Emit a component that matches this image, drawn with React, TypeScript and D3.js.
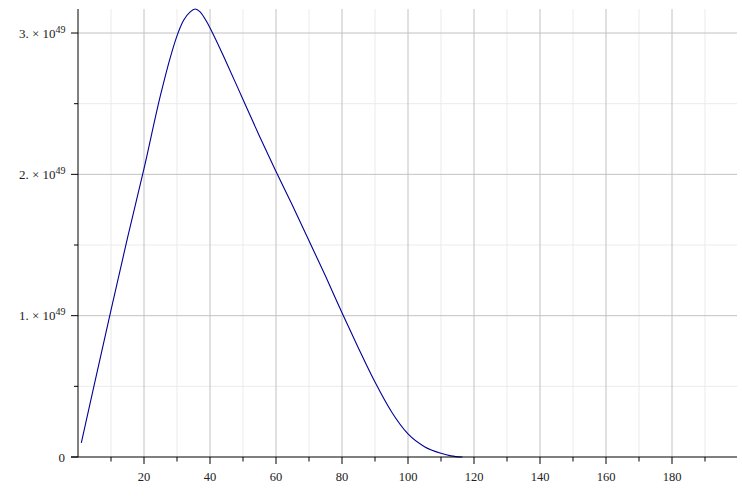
import React from "react";
import * as d3 from "d3";

// Curve samples (x, value in units of 1e49)
const xValues = [1, 5, 10, 15, 20, 25, 28, 30, 32, 34, 35.5, 37, 39, 41, 45, 50, 55, 60, 65, 70, 75, 80, 85, 90, 95, 100, 105, 110, 113, 116.5];
const yValues = [0.10, 0.52, 1.04, 1.55, 2.04, 2.56, 2.83, 2.98, 3.09, 3.15, 3.17, 3.15, 3.08, 2.99, 2.79, 2.53, 2.27, 2.02, 1.78, 1.53, 1.28, 1.02, 0.77, 0.53, 0.32, 0.163, 0.073, 0.026, 0.008, 0.0];
const scaleExp = 49;

const xMajorTicks = [20, 40, 60, 80, 100, 120, 140, 160, 180];
const xMinorTicks = [10, 30, 50, 70, 90, 110, 130, 150, 170, 190];
const yMajorTicks = [0, 1, 2, 3];
const yMinorTicks = [0.5, 1.5, 2.5];

const W = 742;
const H = 503;

export default function App() {
  const x = d3.scaleLinear().domain([0, 200]).range([78, 738]);
  const y = d3.scaleLinear().domain([0, 3.17]).range([457, 9]);
  const pts: [number, number][] = xValues.map((v, i) => [v, yValues[i]]);
  const line = d3
    .line<[number, number]>()
    .x((d) => x(d[0]))
    .y((d) => y(d[1]))
    .curve(d3.curveMonotoneX);

  const x0 = x(0);
  const xR = 737;
  const yTop = 9;
  const y0 = y(0);
  const font = "'Liberation Serif', 'Times New Roman', serif";

  return (
    <svg
      width={W}
      height={H}
      style={{ position: "absolute", left: 0, top: 0, background: "#fff" }}
      fontFamily={font}
    >
      {/* minor grid */}
      {xMinorTicks.map((t) => (
        <line key={"xm" + t} x1={x(t)} x2={x(t)} y1={yTop} y2={y0} stroke="#ebebeb" strokeWidth={1} />
      ))}
      {yMinorTicks.map((t) => (
        <line key={"ym" + t} x1={x0} x2={xR} y1={y(t)} y2={y(t)} stroke="#ebebeb" strokeWidth={1} />
      ))}
      {/* major grid */}
      {xMajorTicks.map((t) => (
        <line key={"xM" + t} x1={x(t)} x2={x(t)} y1={yTop} y2={y0} stroke="#c2c2c2" strokeWidth={1} />
      ))}
      {yMajorTicks.filter((t) => t > 0).map((t) => (
        <line key={"yM" + t} x1={x0} x2={xR} y1={y(t)} y2={y(t)} stroke="#c2c2c2" strokeWidth={1} />
      ))}

      {/* curve */}
      <path d={line(pts) || ""} fill="none" stroke="#000096" strokeWidth={1.1} />

      {/* axes */}
      <line x1={x0} x2={x0} y1={yTop} y2={y0} stroke="#000" strokeWidth={1} />
      <line x1={71} x2={xR} y1={y0} y2={y0} stroke="#000" strokeWidth={1} />

      {/* x ticks */}
      {xMajorTicks.map((t) => (
        <g key={"xt" + t}>
          <line x1={x(t)} x2={x(t)} y1={y0} y2={y0 + 7} stroke="#000" />
          <text x={x(t)} y={480.5} fontSize={12.5} textAnchor="middle" fill="#222">
            {t}
          </text>
        </g>
      ))}
      {xMinorTicks.map((t) => (
        <line key={"xmt" + t} x1={x(t)} x2={x(t)} y1={y0} y2={y0 + 4.5} stroke="#000" />
      ))}

      {/* y ticks */}
      {yMajorTicks.map((t) => (
        <g key={"yt" + t}>
          <line x1={x0 - 7} x2={x0} y1={y(t)} y2={y(t)} stroke="#000" />
          {t === 0 ? (
            <text x={65} y={y(t) + 4.5} fontSize={13} textAnchor="end" fill="#222">
              0
            </text>
          ) : (
            <text x={65.5} y={y(t) + 4.5} fontSize={13} textAnchor="end" fill="#222">
              {`${t}. \u00d7 10`}
              <tspan fontSize={10} dy={-5}>{scaleExp}</tspan>
            </text>
          )}
        </g>
      ))}
      {yMinorTicks.map((t) => (
        <line key={"ymt" + t} x1={x0 - 4} x2={x0} y1={y(t)} y2={y(t)} stroke="#000" />
      ))}
    </svg>
  );
}
